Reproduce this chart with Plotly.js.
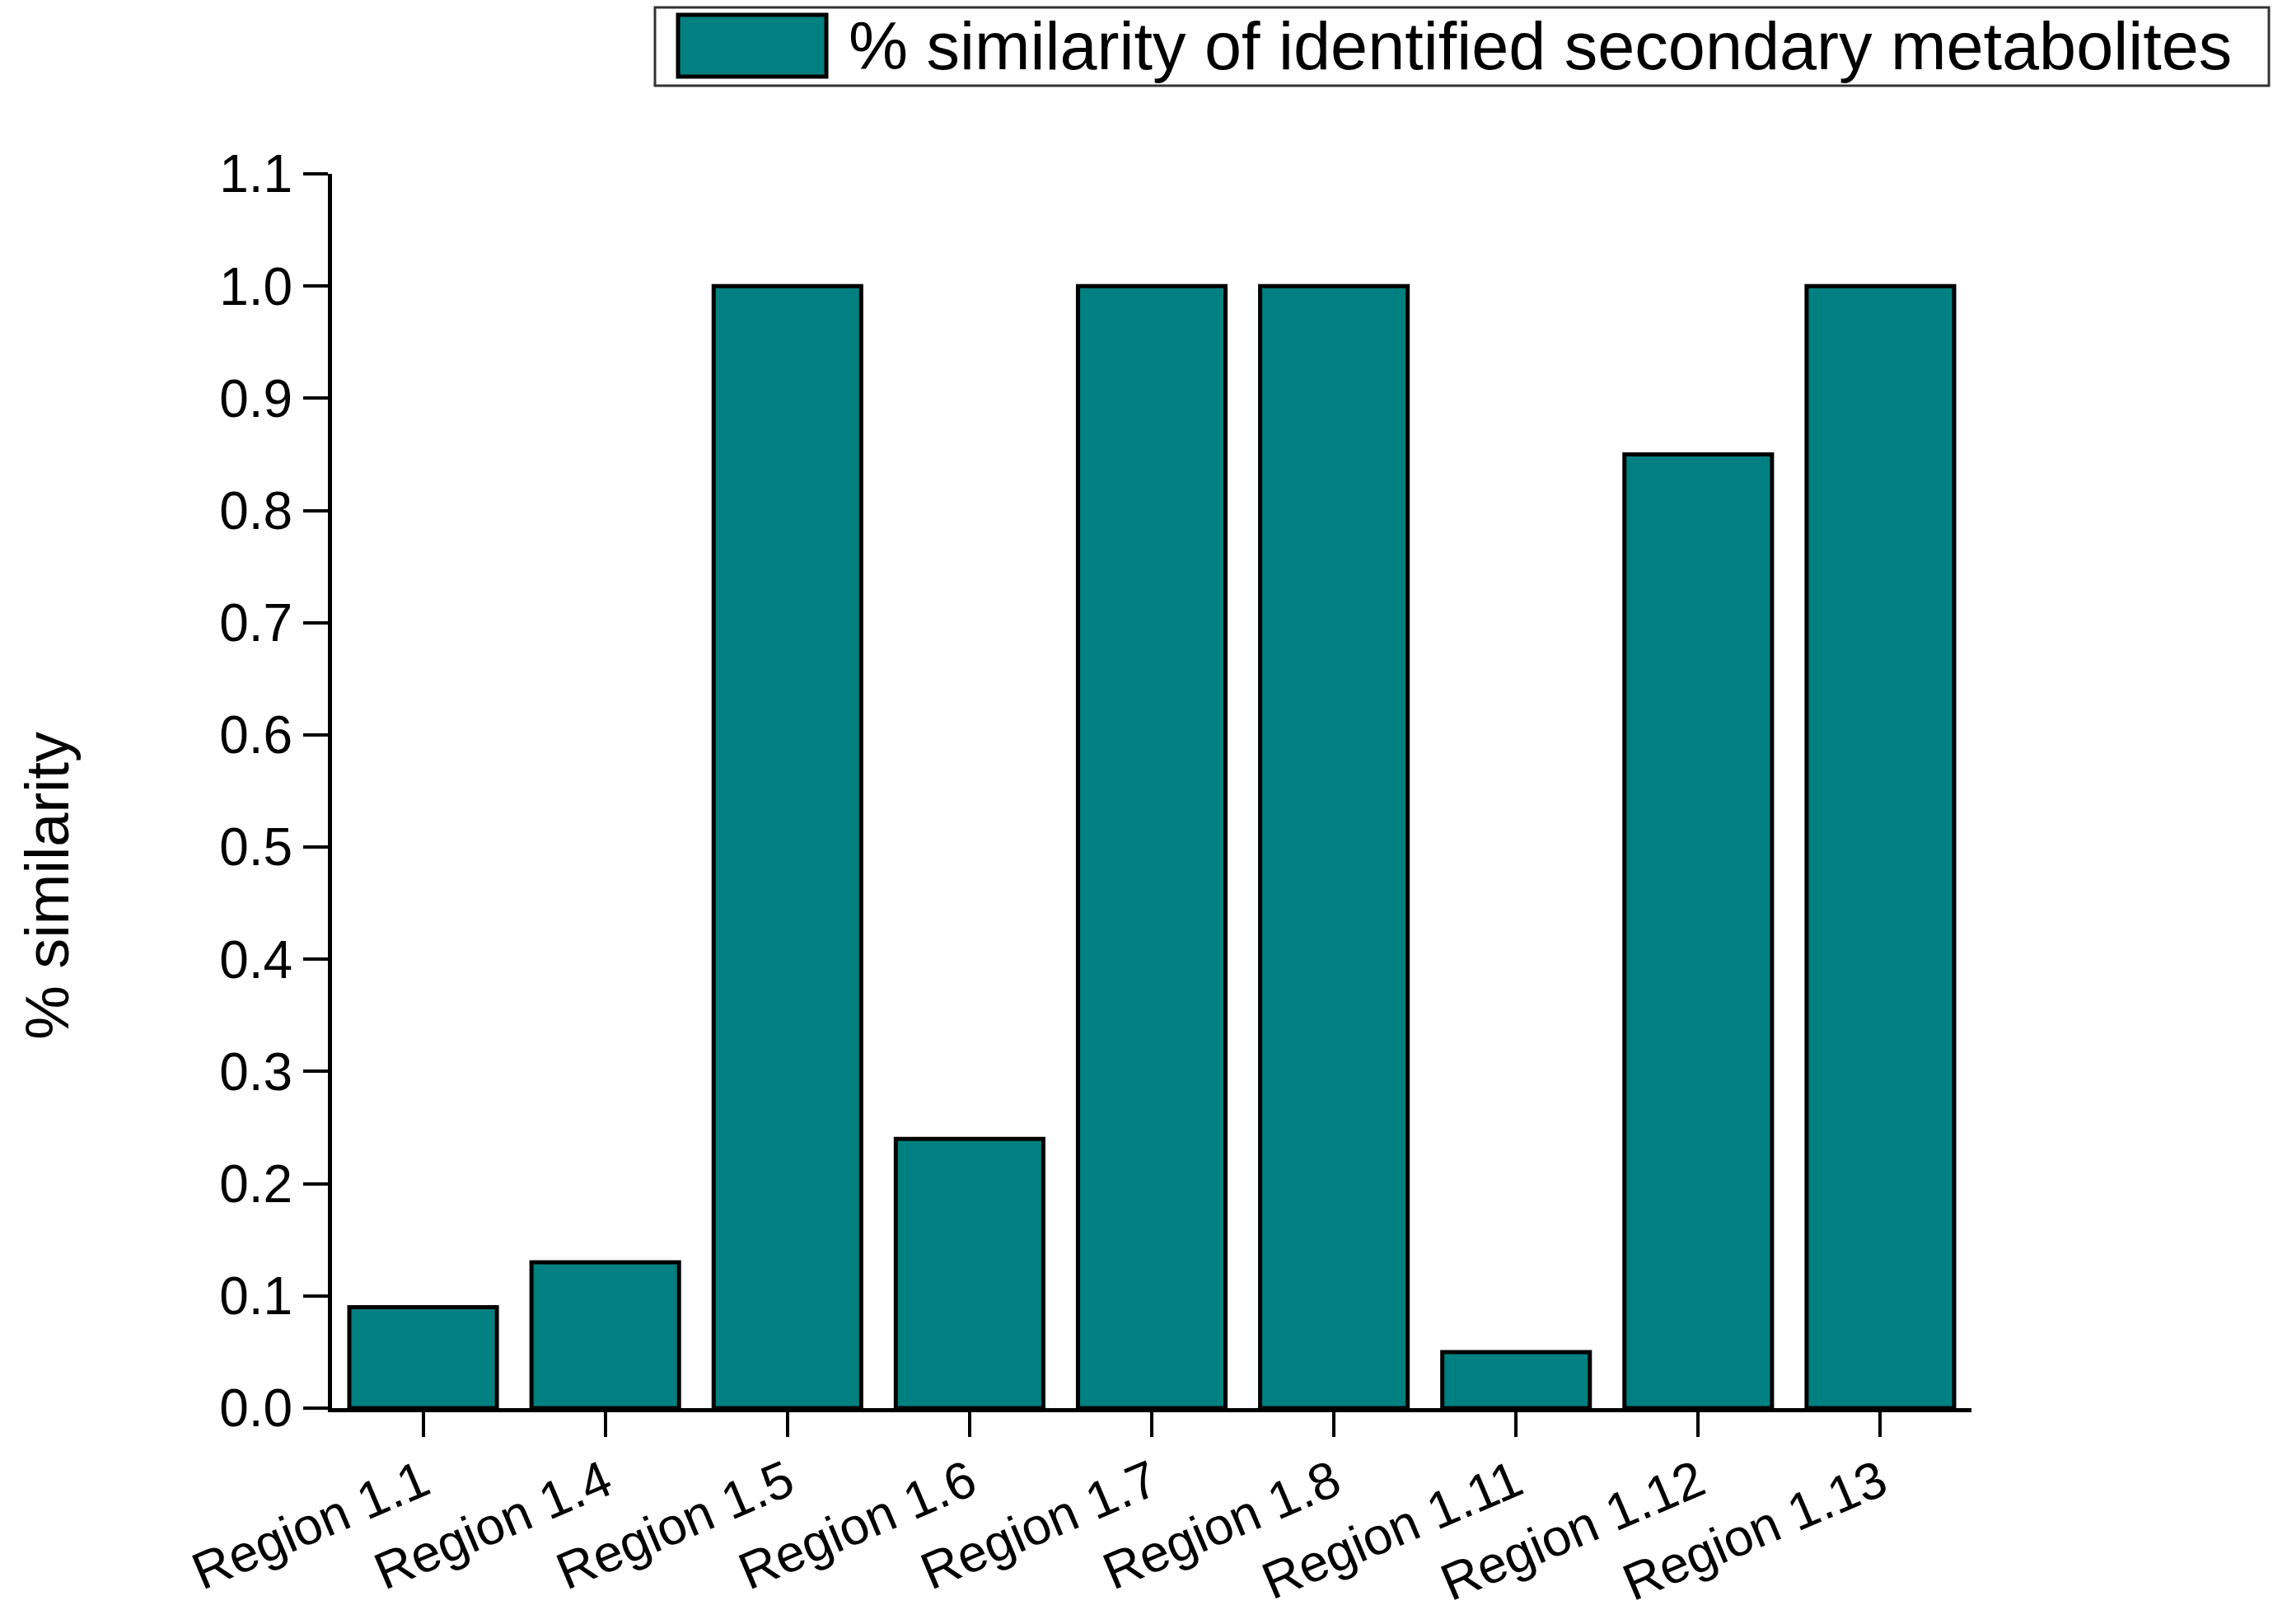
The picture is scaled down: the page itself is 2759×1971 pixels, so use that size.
<!DOCTYPE html>
<html>
<head>
<meta charset="utf-8">
<script src="https://cdn.plot.ly/plotly-3.0.1.min.js"></script>
<style>html,body{margin:0;padding:0;background:#fff;}#chart{width:2759px;height:1971px;}</style>
</head>
<body>
<div id="chart"></div>
<script>
const categories = ["Region 1.1","Region 1.4","Region 1.5","Region 1.6","Region 1.7","Region 1.8","Region 1.11","Region 1.12","Region 1.13"];
const similarity = [0.09, 0.13, 1.0, 0.24, 1.0, 1.0, 0.05, 0.85, 1.0];
const seriesName = "% similarity of identified secondary metabolites";
const yTitle = "% similarity";
const barColor = "#008080";
const FONT = "Arial, 'Liberation Sans', sans-serif";

const trace = {
  type: "bar",
  x: categories,
  y: similarity,
  name: seriesName,
  showlegend: false,
  marker: {color: barColor, line: {color: "#000", width: 5}},
  hoverinfo: "x+y"
};

const layout = {
  width: 2759, height: 1971,
  margin: {l: 403, r: 366, t: 211, b: 262, pad: 0},
  paper_bgcolor: "#fff", plot_bgcolor: "#fff",
  font: {family: FONT, color: "#000"},
  bargap: 0.19,
  xaxis: {
    type: "category",
    range: [-0.5, 8.5],
    showline: true, linecolor: "#000", linewidth: 5,
    ticks: "outside", ticklen: 30, tickwidth: 4, tickcolor: "#000",
    tickangle: -23,
    ticklabelstandoff: -6,
    tickfont: {family: FONT, size: 63, color: "#000"},
    showgrid: false, zeroline: false, automargin: false
  },
  yaxis: {
    range: [0, 1.1], dtick: 0.1, tick0: 0, tickformat: ".1f",
    showline: true, linecolor: "#000", linewidth: 5,
    ticks: "outside", ticklen: 30, tickwidth: 4, tickcolor: "#000",
    tickfont: {family: FONT, size: 64, color: "#000"},
    showgrid: false, zeroline: false, automargin: false
  },
  shapes: [
    {type: "rect", xref: "paper", yref: "paper",
     x0: (795-403)/1990, x1: (2754-403)/1990, y0: (1709-104)/1498, y1: (1709-9)/1498,
     line: {color: "#333", width: 3}, fillcolor: "#fff", layer: "below"},
    {type: "rect", xref: "paper", yref: "paper",
     x0: (823-403)/1990, x1: (1003-403)/1990, y0: (1709-93)/1498, y1: (1709-18)/1498,
     line: {color: "#000", width: 5}, fillcolor: barColor}
  ],
  annotations: [
    {xref: "paper", yref: "paper", x: (1028-403)/1990, y: (1709-56)/1498,
     xanchor: "left", yanchor: "middle", showarrow: false,
     text: seriesName, font: {family: FONT, size: 81, color: "#000"}},
    {xref: "paper", yref: "paper", x: (57-403)/1990, y: (1709-1075)/1498,
     xanchor: "center", yanchor: "middle", showarrow: false, textangle: -90,
     text: yTitle, font: {family: FONT, size: 74, color: "#000"}}
  ]
};

Plotly.newPlot("chart", [trace], layout, {staticPlot: true, displayModeBar: false});
</script>
</body>
</html>
